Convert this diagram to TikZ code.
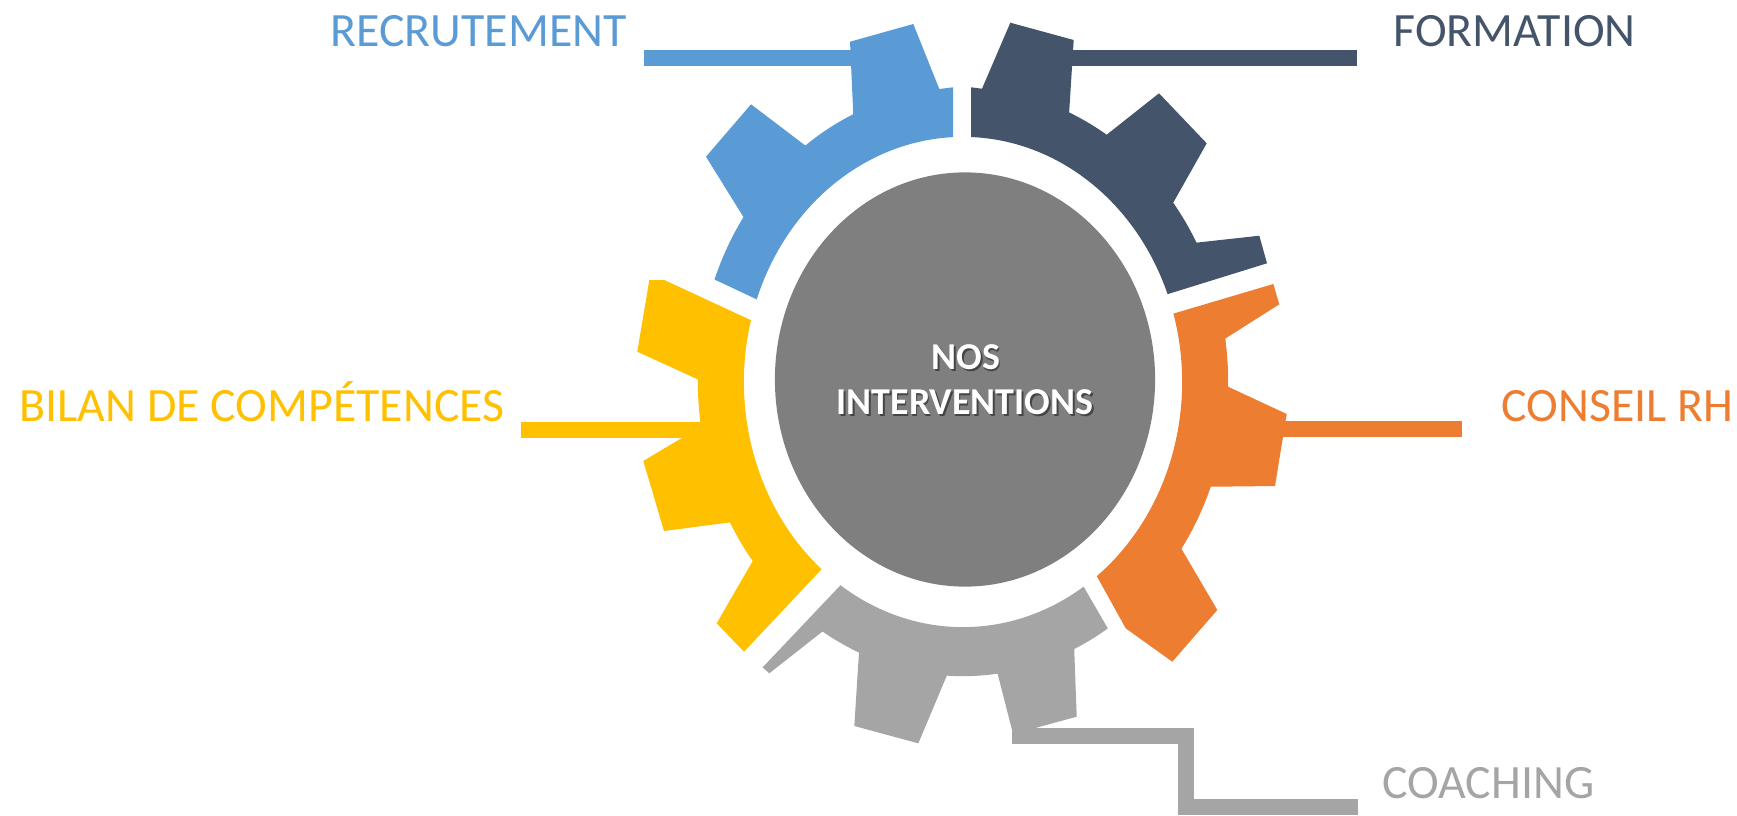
\documentclass[tikz,border=0pt]{standalone}
\usepackage{fontspec}
\setmainfont{Carlito}
\usetikzlibrary{shapes.geometric}
\definecolor{cblue}{HTML}{5B9BD5}
\definecolor{cdark}{HTML}{44546A}
\definecolor{cyellow}{HTML}{FFC000}
\definecolor{corange}{HTML}{ED7D31}
\definecolor{cgray}{HTML}{A5A5A5}
\definecolor{chub}{HTML}{7F7F7F}
\begin{document}
\begin{tikzpicture}[x=0.01cm,y=-0.01cm,
  inr/.style={x radius=2.19cm, y radius=2.45cm},
  rootr/.style={x radius=2.65cm, y radius=2.94cm},
  bar/.style={line width=0.157cm, line cap=butt, line join=miter},
  lbl/.style={anchor=base west, inner sep=0pt, font=\fontsize{13.6}{16}\selectfont},
  hubtxt/.style={anchor=base, inner sep=0pt, font=\fontsize{10.8}{12}\selectfont\bfseries}]
\useasboundingbox (0,0) rectangle (1737,815);
\coordinate (C) at (963,382);

% blue segment
\fill[cblue] ([shift={(C)}]92.6:2.19cm and 2.45cm)
  arc[start angle=92.6, end angle=160.3, inr]
  -- ([shift={(C)}]159.6:2.65cm and 2.94cm)
  arc[start angle=159.6, end angle=145.9, rootr]
  -- (706,156.7) -- (751,104.3)
  -- ([shift={(C)}]126.5:2.65cm and 2.94cm)
  arc[start angle=126.5, end angle=114.45, rootr]
  -- (850,41.7) -- (913.3,24) -- (939.3,89) -- (953,87.3) -- cycle;

% dark segment
\fill[cdark] ([shift={(C)}]21:2.19cm and 2.45cm)
  arc[start angle=21, end angle=87.9, inr]
  -- (971,87.3) -- (982,88.7) -- (1010.3,22.7) -- (1073.7,40)
  -- ([shift={(C)}]66.4:2.65cm and 2.94cm)
  arc[start angle=66.4, end angle=57.2, rootr]
  -- (1159,93.3) -- (1206.7,143.3)
  -- ([shift={(C)}]37.55:2.65cm and 2.94cm)
  arc[start angle=37.55, end angle=28.28, rootr]
  -- (1259.3,235.7) -- (1267,263.3) -- cycle;

% orange segment
\fill[corange] ([shift={(C)}]-52.37:2.19cm and 2.45cm)
  arc[start angle=-52.37, end angle=16.2, inr]
  -- (1273.3,284) -- (1279.3,304.3)
  -- ([shift={(C)}]8.49:2.65cm and 2.94cm)
  arc[start angle=8.49, end angle=-0.93, rootr]
  -- (1286.7,414) -- (1275,486)
  -- ([shift={(C)}]-20.86:2.65cm and 2.94cm)
  arc[start angle=-20.86, end angle=-34.54, rootr]
  -- (1217.3,610) -- (1172.3,661.7) -- (1125.7,628.3) -- cycle;

% yellow segment
\fill[cyellow] ([shift={(C)}]165.4:2.19cm and 2.45cm)
  -- (664.3,280) -- (649.3,280) -- (637.3,351.7)
  -- ([shift={(C)}]179.5:2.65cm and 2.94cm)
  arc[start angle=179.5, end angle=187.8, rootr]
  -- (682.3,437.7) -- (643.3,461) -- (664,531)
  -- ([shift={(C)}]208.5:2.65cm and 2.94cm)
  arc[start angle=208.5, end angle=217.5, rootr]
  -- (716.7,623.3) -- (744,651.7)
  -- ([shift={(C)}]229.8:2.19cm and 2.45cm)
  arc[start angle=229.8, end angle=165.4, inr] -- cycle;

% gray segment
\fill[cgray] ([shift={(C)}]236:2.19cm and 2.45cm)
  -- (762.7,667.3) -- (769.3,673.3)
  -- ([shift={(C)}]238:2.65cm and 2.94cm)
  arc[start angle=238, end angle=246.9, rootr]
  -- (854.3,726) -- (918.3,743.3)
  -- ([shift={(C)}]266.5:2.65cm and 2.94cm)
  arc[start angle=266.5, end angle=277.5, rootr]
  -- (1013.3,735) -- (1040,726.7) -- (1076.7,716.7)
  -- ([shift={(C)}]294.8:2.65cm and 2.94cm)
  arc[start angle=294.8, end angle=303.1, rootr]
  -- ([shift={(C)}]303.4:2.19cm and 2.45cm)
  arc[start angle=303.4, end angle=236, inr] -- cycle;

% hub
\node[ellipse, fill=chub, draw=none, minimum width=3.8cm, minimum height=4.14cm, inner sep=0pt] (hub) at (965,379.5) {};
\node[hubtxt, text=black, opacity=0.45] (nosS) at (967.5,371) {NOS};
\node[hubtxt, text=black, opacity=0.45] (intS) at (966.5,416) {INTERVENTIONS};
\node[hubtxt, text=white] (nos) at (966,369) {NOS};
\node[hubtxt, text=white] (int) at (965,414) {INTERVENTIONS};

% labels
\node[lbl, text=cblue] (recr) at (330,46.7) {RECRUTEMENT};
\node[lbl, text=cdark] (form) at (1393,46.7) {FORMATION};
\node[lbl, text=cyellow] (bilan) at (19,421.7) {BILAN DE COMPÉTENCES};
\node[lbl, text=corange] (conseil) at (1501,421.7) {CONSEIL RH};
\node[lbl, text=cgray] (coach) at (1381.7,798.3) {COACHING};

% connectors
\coordinate (recrA) at (643.5,58);  \coordinate (recrB) at (852,58);
\coordinate (formA) at (1071,58);   \coordinate (formB) at (1356.5,58);
\coordinate (bilA) at (521,429.7);  \coordinate (bilB) at (701,429.7);
\coordinate (consA) at (1283,429.2); \coordinate (consB) at (1462,429.2);
\coordinate (coA) at (1012,736); \coordinate (coB) at (1185.8,736);
\coordinate (coC) at (1185.8,807.2); \coordinate (coD) at (1358.3,807.2);
\draw[bar, cblue] (recrA) -- (recrB);
\draw[bar, cdark] (formA) -- (formB);
\draw[bar, cyellow] (bilA) -- (bilB);
\draw[bar, corange] (consA) -- (consB);
\draw[bar, cgray] (coA) -- (coB) -- (coC) -- (coD);
\end{tikzpicture}
\end{document}
